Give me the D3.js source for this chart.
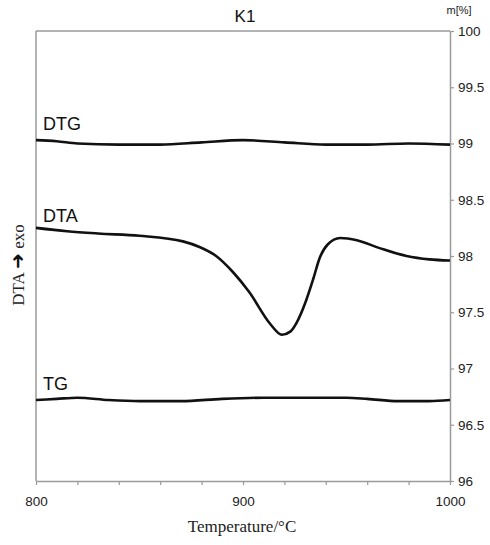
<!DOCTYPE html>
<html><head><meta charset="utf-8">
<script src="https://cdn.jsdelivr.net/npm/d3@7"></script>
<style>body{margin:0;background:#fff}</style>
</head><body>
<svg id="c" width="490" height="545"></svg>
<script>
const title = "K1";
const xTicks = [800, 900, 1000];
const xMinorTicks = [800,820,840,860,880,900,920,940,960,980,1000];
const yTicks = [96, 96.5, 97, 97.5, 98, 98.5, 99, 99.5, 100];

const dtgT = [800,810,820,840,860,880,900,920,940,960,980,1000];
const dtgV = [99.03,99.02,99.0,98.99,98.99,99.01,99.03,99.01,98.99,98.99,99.0,98.99];

const dtaT = [800,815,830,850,871,879,887,895,903,913,918.8,923,926,930,934,937,940.8,947,955,966,979,990,1000];
const dtaV = [98.25,98.22,98.2,98.18,98.13,98.08,98.0,97.86,97.68,97.4,97.3,97.33,97.41,97.58,97.8,97.98,98.1,98.16,98.14,98.07,98.0,97.97,97.96];

const tgT = [800,810,820,835,850,870,890,910,930,950,960,975,990,1000];
const tgV = [96.72,96.73,96.74,96.72,96.71,96.71,96.73,96.74,96.74,96.74,96.73,96.71,96.71,96.72];

const svg = d3.select("#c");
const L = 36, R = 450, T = 31, B = 481;
const x = d3.scaleLinear().domain([800,1000]).range([L,R]);
const y = d3.scaleLinear().domain([96,100]).range([B,T]);
const axisCol = "#9a9a9a";
const font = "Liberation Sans, Arial, sans-serif";
const serif = "Liberation Serif, Times New Roman, serif";

// frame
svg.append("line").attr("x1",L).attr("x2",R).attr("y1",T).attr("y2",T).attr("stroke",axisCol).attr("stroke-width",1.5);
svg.append("line").attr("x1",L).attr("x2",L).attr("y1",T).attr("y2",B).attr("stroke",axisCol).attr("stroke-width",1.5);

// bottom axis
const xa = svg.append("g").attr("transform",`translate(0,${B})`)
  .call(d3.axisBottom(x).tickValues(xMinorTicks).tickSize(4).tickSizeOuter(0).tickFormat(d => xTicks.includes(d) ? d : ""));
xa.select(".domain").attr("stroke",axisCol).attr("stroke-width",1.5);
xa.selectAll(".tick line").attr("stroke",axisCol).attr("stroke-width",1.2);
xa.selectAll(".tick text").attr("font-family",font).attr("font-size",13.5).attr("fill","#222").attr("dy","1.3em");

// right axis
const ya = svg.append("g").attr("transform",`translate(${R},0)`)
  .call(d3.axisRight(y).tickValues(yTicks).tickSize(4).tickSizeOuter(0).tickFormat(d => d));
ya.select(".domain").attr("stroke",axisCol).attr("stroke-width",1.5);
ya.selectAll(".tick line").attr("stroke",axisCol).attr("stroke-width",1.2);
ya.selectAll(".tick text").attr("font-family",font).attr("font-size",13.5).attr("fill","#222").attr("x",8);

// curves
const line = d3.line().x(d=>x(d[0])).y(d=>y(d[1])).curve(d3.curveMonotoneX);
[[dtgT,dtgV],[dtaT,dtaV],[tgT,tgV]].forEach(([t,v])=>{
  svg.append("path").datum(t.map((tt,i)=>[tt,v[i]])).attr("d",line)
    .attr("fill","none").attr("stroke","#111").attr("stroke-width",2.6);
});

// curve labels
[["DTG",130],["DTA",222],["TG",390]].forEach(([s,yy])=>{
  svg.append("text").attr("x",43).attr("y",yy).text(s)
    .attr("font-family",font).attr("font-size",18).attr("fill","#111");
});

// title
svg.append("text").attr("x",245).attr("y",22).attr("text-anchor","middle").text(title)
  .attr("font-family",font).attr("font-size",17).attr("fill","#111");
svg.append("text").attr("x",459).attr("y",14).attr("text-anchor","middle").text("m[%]")
  .attr("font-family",font).attr("font-size",11).attr("fill","#222");

// x label
svg.append("text").attr("x",242).attr("y",532).attr("text-anchor","middle").text("Temperature/°C")
  .attr("font-family",serif).attr("font-size",17).attr("fill","#222");

// y label
const yl = svg.append("text").attr("transform","translate(24,265) rotate(-90)").attr("text-anchor","middle")
  .attr("font-family",serif).attr("font-size",17).attr("fill","#222");
yl.append("tspan").text("DTA ");
yl.append("tspan").text("➜").attr("font-family","DejaVu Sans").attr("font-weight","bold").attr("font-size",19).attr("fill","#111");
yl.append("tspan").text(" exo");
</script>
</body></html>
